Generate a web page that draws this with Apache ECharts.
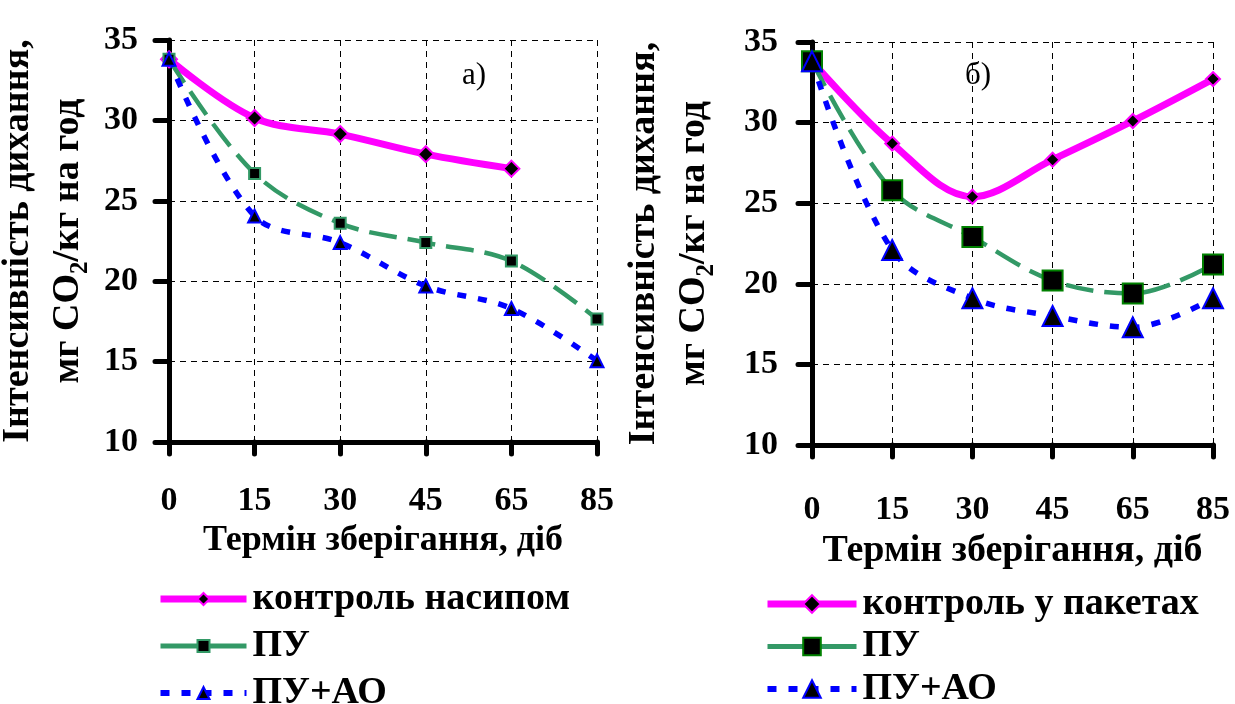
<!DOCTYPE html>
<html>
<head>
<meta charset="utf-8">
<script src="https://cdn.jsdelivr.net/npm/echarts@6/dist/echarts.min.js"></script>
<style>
  html, body { margin: 0; padding: 0; background: #fff; }
  #wrap { width: 1235px; height: 704px; position: relative; }
  .panel { position: absolute; top: 0; height: 704px; }
  #chartA { left: 0; width: 617px; }
  #chartB { left: 617px; width: 618px; }
</style>
</head>
<body>
<div id="wrap">
  <div id="chartA" class="panel"></div>
  <div id="chartB" class="panel"></div>
</div>
<script>
// термін зберігання, діб
const days = ['0', '15', '30', '45', '65', '85']

// а) — зберігання насипом
const controlBulk = [33.8, 30.15, 29.15, 27.9, 27.0, '-']
const puA = [33.8, 26.7, 23.6, 22.4, 21.25, 17.65]
const puAoA = [33.8, 24.05, 22.4, 19.7, 18.3, 15.05]

// б) — зберігання у пакетах
const controlPack = [33.8, 28.7, 25.4, 27.7, 30.1, 32.7]
const puB = [33.8, 25.8, 22.9, 20.2, 19.4, 21.2]
const puAoB = [33.8, 22.1, 19.1, 18.0, 17.3, 19.1]

const FONT = '"Liberation Serif", "Times New Roman", serif'

function buildOption(cfg) {
  return {
    animation: false,
    backgroundColor: '#fff',
    textStyle: { fontFamily: FONT, color: '#000' },
    grid: Object.assign({ outerBoundsMode: 'none', containLabel: false }, cfg.grid),
    graphic: [{
      type: 'text',
      left: cfg.tagPos[0],
      top: cfg.tagPos[1],
      style: { text: cfg.tag, font: '31px ' + FONT, fill: '#000' }
    }],
    legend: {
      orient: 'vertical',
      left: cfg.legendLeft,
      top: cfg.legendTop,
      height: 200,
      padding: 0,
      itemWidth: cfg.legendItemWidth,
      itemHeight: cfg.legendItemHeight,
      itemGap: cfg.legendGap,
      selectedMode: false,
      textStyle: { fontFamily: FONT, fontWeight: 'bold', fontSize: 38, lineHeight: 28, color: '#000', padding: [0, 0, 0, 1] },
      data: [
        { name: cfg.names[0], lineStyle: { width: 7 } },
        { name: cfg.names[1], lineStyle: { width: 5, type: 'solid' } },
        { name: cfg.names[2], lineStyle: { width: 6 } }
      ]
    },
    xAxis: {
      type: 'category',
      data: days,
      boundaryGap: false,
      name: 'Термін зберігання, діб',
      nameLocation: 'middle',
      nameGap: cfg.xNameGap,
      nameTextStyle: { fontFamily: FONT, fontWeight: 'bold', fontSize: cfg.xNameSize, color: '#000' },
      axisLine: { lineStyle: { color: '#000', width: 5, cap: 'round' } },
      axisTick: { show: true, length: 12, alignWithLabel: true, lineStyle: { color: '#000', width: 5, cap: 'round' } },
      axisLabel: { margin: cfg.xLabelMargin, fontFamily: FONT, fontWeight: 'bold', fontSize: 34, color: '#000' },
      splitLine: { show: true, lineStyle: { color: '#000', width: 1, type: [6, 5] } }
    },
    yAxis: {
      type: 'value',
      min: 10,
      max: 35,
      interval: 5,
      name: 'Інтенсивність дихання,\nмг CO{s|2}/кг на год',
      nameLocation: 'middle',
      nameRotate: 90,
      nameGap: cfg.yNameGap,
      nameTextStyle: {
        fontFamily: FONT, fontWeight: 'bold', fontSize: 38, color: '#000', lineHeight: 50,
        rich: { s: { fontFamily: FONT, fontWeight: 'bold', fontSize: 25, color: '#000', lineHeight: 36, verticalAlign: 'bottom' } }
      },
      axisLine: { show: true, lineStyle: { color: '#000', width: 5, cap: 'round' } },
      axisTick: { show: true, length: 14, lineStyle: { color: '#000', width: 5, cap: 'round' } },
      axisLabel: { margin: cfg.yLabelMargin, fontFamily: FONT, fontWeight: 'bold', fontSize: 34, color: '#000' },
      splitLine: { show: true, lineStyle: { color: '#000', width: 1, type: [6, 5] } }
    },
    series: [
      {
        name: cfg.names[0],
        type: 'line',
        data: cfg.data[0],
        smooth: 0.35,
        symbol: 'diamond',
        symbolSize: cfg.sizes[0],
        lineStyle: { color: '#FF00FF', width: 7 },
        itemStyle: { color: '#000', borderColor: '#FF00FF', borderWidth: 2 }
      },
      {
        name: cfg.names[1],
        type: 'line',
        data: cfg.data[1],
        smooth: 0.35,
        symbol: 'rect',
        symbolSize: cfg.sizes[1],
        lineStyle: { color: '#339966', width: 4.5, type: [28, 11] },
        itemStyle: { color: '#000', borderColor: cfg.squareBorder, borderWidth: 2 }
      },
      {
        name: cfg.names[2],
        type: 'line',
        data: cfg.data[2],
        smooth: 0.35,
        symbol: 'triangle',
        symbolSize: cfg.sizes[2],
        lineStyle: { color: '#0000FF', width: 5.5, type: [9, 12] },
        itemStyle: { color: '#000', borderColor: '#0000FF', borderWidth: 2 }
      }
    ]
  }
}

const chartA = echarts.init(document.getElementById('chartA'))
chartA.setOption(buildOption({
  grid: { left: 169, right: 20, top: 40, bottom: 262 },
  tag: 'а)',
  tagPos: [462, 60],
  names: ['контроль насипом', 'ПУ', 'ПУ+АО'],
  data: [controlBulk, puA, puAoA],
  sizes: [16, 11, 13],
  squareBorder: '#339966',
  legendLeft: 157,
  legendTop: 580,
  legendGap: 9,
  legendItemWidth: 86,
  legendItemHeight: 15,
  xNameGap: 77,
  xNameSize: 36,
  xLabelMargin: 42,
  yLabelMargin: 31,
  yNameGap: 64
}))

const chartB = echarts.init(document.getElementById('chartB'))
chartB.setOption(buildOption({
  grid: { left: 195, right: 22, top: 42, bottom: 259 },
  tag: 'б)',
  tagPos: [348, 60],
  names: ['контроль у пакетах', 'ПУ', 'ПУ+АО'],
  data: [controlPack, puB, puAoB],
  sizes: [14, 20, 20],
  squareBorder: '#008000',
  legendLeft: 147,
  legendTop: 585,
  legendGap: 4.5,
  legendItemWidth: 89,
  legendItemHeight: 22,
  xNameGap: 86,
  xNameSize: 38,
  xLabelMargin: 48,
  yLabelMargin: 34,
  yNameGap: 93
}))
</script>
</body>
</html>
